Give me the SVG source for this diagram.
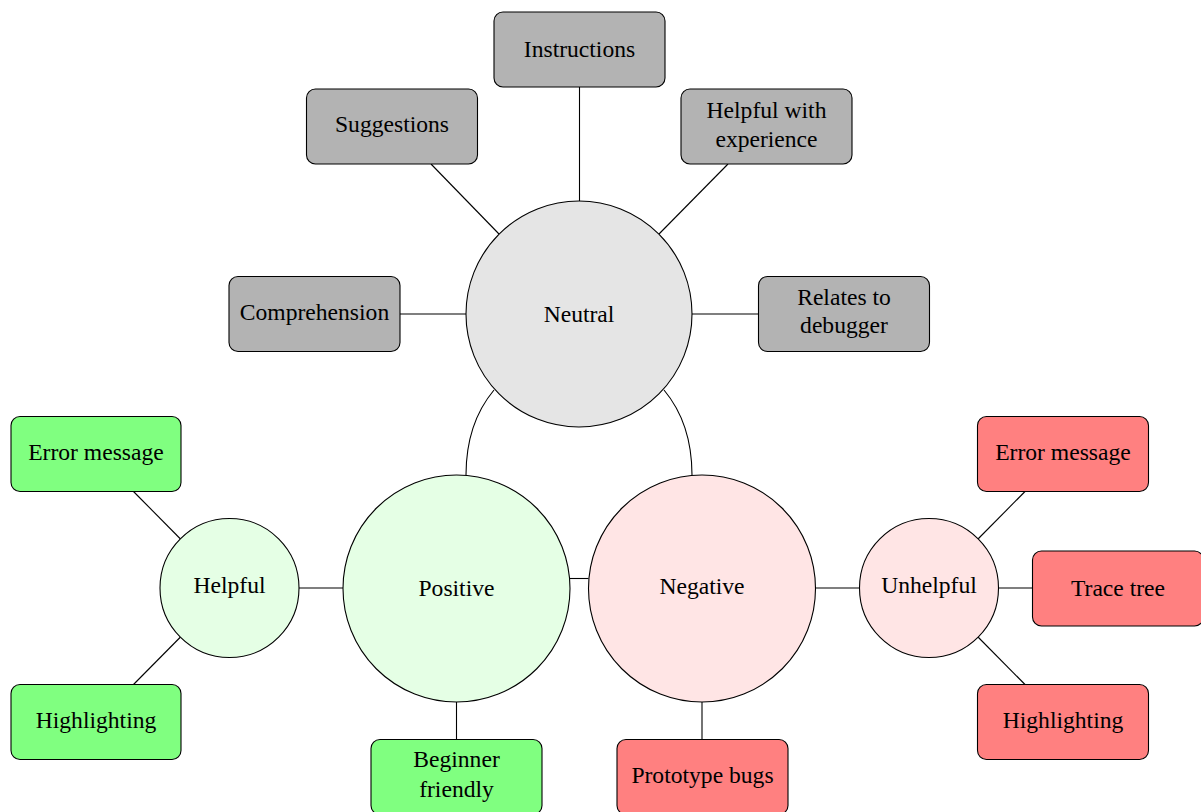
<svg xmlns="http://www.w3.org/2000/svg" width="1201" height="812" viewBox="0 0 1201 812">
<style>
.edge{stroke:#000;stroke-width:1.1;fill:none}
.circ{stroke:#000;stroke-width:1.1}
.box{stroke:#000;stroke-width:1.1}
.gray{fill:#b3b3b3}
.green{fill:#80ff80}
.red{fill:#ff8080}
text{font-family:"Liberation Serif","Times New Roman",serif;font-size:23.6px;fill:#000;text-anchor:middle}
</style>
<rect width="1201" height="812" fill="#fff"/>
<g id="connectors">
<path class="edge" d="M579.5 87V201"/>
<path class="edge" d="M431 164L499 234"/>
<path class="edge" d="M728 164L659 234"/>
<path class="edge" d="M400 314H466"/>
<path class="edge" d="M692 314H758.5"/>
<path class="edge" d="M494 390C479 408 466 435 466 475"/>
<path class="edge" d="M664 390C679 408 692 435 692 475"/>
<path class="edge" d="M299 588H343"/>
<path class="edge" d="M133.5 491.5L180.5 539"/>
<path class="edge" d="M180.5 637L133.5 684.5"/>
<path class="edge" d="M456.5 702V739.5"/>
<path class="edge" d="M570 578.5H588.5"/>
<path class="edge" d="M702 702V739.5"/>
<path class="edge" d="M815.5 588H859.5"/>
<path class="edge" d="M1025 491.5L978 539"/>
<path class="edge" d="M998.5 588H1032.5"/>
<path class="edge" d="M978 637L1025 684.5"/>
</g>
<g id="neutral"><circle class="circ" cx="579" cy="314" r="113" fill="#e5e5e5"/><text x="579" y="321.8">Neutral</text></g>
<g id="positive"><circle class="circ" cx="456.5" cy="588.5" r="113.5" fill="#e5ffe5"/><text x="456.5" y="596">Positive</text></g>
<g id="negative"><circle class="circ" cx="702" cy="588.5" r="113.5" fill="#ffe5e5"/><text x="702" y="593.5">Negative</text></g>
<g id="helpful"><circle class="circ" cx="229.5" cy="588" r="69.5" fill="#e5ffe5"/><text x="229.5" y="593.3">Helpful</text></g>
<g id="unhelpful"><circle class="circ" cx="929" cy="588" r="69.5" fill="#ffe5e5"/><text x="929" y="593.3">Unhelpful</text></g>
<g id="instructions"><rect class="box gray" x="494" y="12" width="171" height="75" rx="9"/><text x="579.5" y="57.3">Instructions</text></g>
<g id="suggestions"><rect class="box gray" x="306.5" y="89" width="171" height="75" rx="9"/><text x="392" y="131.7">Suggestions</text></g>
<g id="helpful-experience"><rect class="box gray" x="681" y="89" width="171" height="75" rx="9"/><text x="766.5" y="118.3">Helpful with</text><text x="766.5" y="146.7">experience</text></g>
<g id="comprehension"><rect class="box gray" x="229" y="276.5" width="171" height="75" rx="9"/><text x="314.5" y="319.5">Comprehension</text></g>
<g id="relates-debugger"><rect class="box gray" x="758.5" y="276.5" width="171" height="75" rx="9"/><text x="844" y="305">Relates to</text><text x="844" y="333.3">debugger</text></g>
<g id="pos-error-message"><rect class="box green" x="11" y="416.5" width="170" height="75" rx="9"/><text x="96" y="459.5">Error message</text></g>
<g id="pos-highlighting"><rect class="box green" x="11" y="684.5" width="170" height="75" rx="9"/><text x="96" y="727.5">Highlighting</text></g>
<g id="beginner-friendly"><rect class="box green" x="371" y="739.5" width="171" height="75" rx="9"/><text x="456.5" y="767.3">Beginner</text><text x="456.5" y="796.7">friendly</text></g>
<g id="prototype-bugs"><rect class="box red" x="617" y="739.5" width="171" height="75" rx="9"/><text x="702.5" y="782.7">Prototype bugs</text></g>
<g id="neg-error-message"><rect class="box red" x="977.5" y="416.5" width="171" height="75" rx="9"/><text x="1063" y="459.5">Error message</text></g>
<g id="trace-tree"><rect class="box red" x="1032.5" y="551" width="171" height="75" rx="9"/><text x="1118" y="596">Trace tree</text></g>
<g id="neg-highlighting"><rect class="box red" x="977.5" y="684.5" width="171" height="75" rx="9"/><text x="1063" y="727.5">Highlighting</text></g>
</svg>
